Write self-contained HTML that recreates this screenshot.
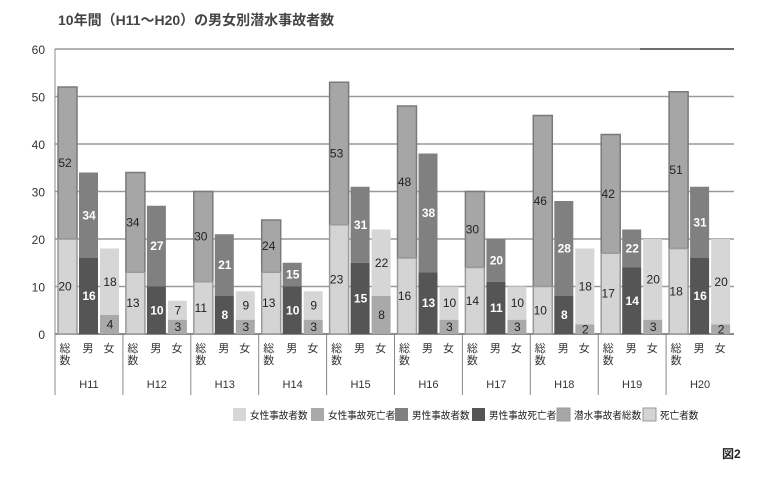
<!DOCTYPE html>
<html><head><meta charset="utf-8"><style>
body{margin:0;background:#fff;width:784px;height:476px;overflow:hidden;font-family:"Liberation Sans","Noto Sans CJK JP",sans-serif}
</style></head><body>
<svg id="chart" width="784" height="476" xmlns="http://www.w3.org/2000/svg" font-family="Liberation Sans, Noto Sans CJK JP, sans-serif">
<text x="58" y="25" font-size="14" fill="#444" font-weight="bold">10年間（H11～H20）の男女別潜水事故者数</text>
<g id="grid"></g><g id="bars"></g><g id="axis"></g><g id="legend"></g>
<text x="722" y="458" font-size="12" font-weight="bold" fill="#222">図2</text>
</svg>
<script>
const years=["H11","H12","H13","H14","H15","H16","H17","H18","H19","H20"];
const total=[52,34,30,24,53,48,30,46,42,51];
const deaths=[20,13,11,13,23,16,14,10,17,18];
const male=[34,27,21,15,31,38,20,28,22,31];
const maleDeaths=[16,10,8,10,15,13,11,8,14,16];
const female=[18,7,9,9,22,10,10,18,20,20];
const femaleDeaths=[4,3,3,3,8,3,3,2,3,2];
const yTicks=[0,10,20,30,40,50,60];
const subLabels=["総数","男","女"];
const legendItems=["女性事故者数","女性事故死亡者","男性事故者数","男性事故死亡者","潜水事故者総数","死亡者数"];
const legendColors=["#d6d6d6","#a9a9a9","#808080","#555555","#a6a6a6","#d4d4d4"];
const NS="http://www.w3.org/2000/svg";
const X0=55,X1=734,Y0=334,YT=49;
const gw=(X1-X0)/years.length;
const y=v=>Y0-(v/60)*(Y0-YT);
function mk(t,a,p){const e=document.createElementNS(NS,t);for(const k in a)e.setAttribute(k,a[k]);p.appendChild(e);return e;}
const grid=document.getElementById('grid'),bars=document.getElementById('bars'),axis=document.getElementById('axis'),leg=document.getElementById('legend');
yTicks.forEach(v=>{
 const l=mk('line',{x1:X0,x2:X1,y1:y(v),y2:y(v),stroke:v===0?'#666':'#999','stroke-width':1.5},grid);
 
 
 const t=mk('text',{x:X0-10,y:y(v)+5,'text-anchor':'end','font-size':12,fill:'#333'},axis);
 t.textContent=v;
 
 
});
const topL=mk('line',{x1:640,x2:X1,y1:y(60),y2:y(60),stroke:'#111','stroke-width':1},grid);


const al=mk('line',{x1:X0,x2:X0,y1:YT,y2:395,stroke:'#888'},axis);


function seg(x,v0,v1,fill,stroke,name){
 const r=mk('rect',{x:x,y:y(v1),width:19,height:y(v0)-y(v1),fill:fill,stroke:stroke||'none','stroke-width':stroke?1.5:0},bars);
 
 
}
function lbl(x,v,mid,col,name){
 const t=mk('text',{x:x,y:y(mid)+4,'text-anchor':'middle','font-size':12,fill:col,'font-weight':col==='#fff'?'bold':'normal'},bars);
 t.textContent=v;
 
 
}
years.forEach((yr,i)=>{
 const gx=X0+i*gw;
 const bx=[gx+3,gx+24,gx+45];
 seg(bx[0],deaths[i],total[i],'#a6a6a6','#7a7a7a','bar-total');
 seg(bx[0],0,deaths[i],'#d4d4d4','#9a9a9a','bar-deaths');
 lbl(bx[0]+7,total[i],(deaths[i]+total[i])/2,'#222','label-total');
 lbl(bx[0]+7,deaths[i],deaths[i]/2,'#222','label-deaths');
 seg(bx[1],maleDeaths[i],male[i],'#808080',null,'bar-male');
 seg(bx[1],0,maleDeaths[i],'#555555',null,'bar-male-deaths');
 lbl(bx[1]+10,male[i],(maleDeaths[i]+male[i])/2,'#fff','label-male');
 lbl(bx[1]+10,maleDeaths[i],maleDeaths[i]/2,'#fff','label-male-deaths');
 seg(bx[2],femaleDeaths[i],female[i],'#d6d6d6',null,'bar-female');
 seg(bx[2],0,femaleDeaths[i],'#a9a9a9',null,'bar-female-deaths');
 lbl(bx[2]+10,female[i],(femaleDeaths[i]+female[i])/2,'#222','label-female');
 lbl(bx[2]+10,femaleDeaths[i],femaleDeaths[i]/2,'#222','label-female-deaths');
 if(i>0){const s=mk('line',{x1:gx,x2:gx,y1:Y0,y2:395,stroke:'#888'},axis);
  
  }
 subLabels.forEach((s,j)=>{
  const cx=bx[j]+9;
  if(s.length===2){
   [0,1].forEach(k=>{const t=mk('text',{x:cx-2,y:352+k*12,'text-anchor':'middle','font-size':11,fill:'#333'},axis);t.textContent=s[k];
    
    });
  } else {const t=mk('text',{x:cx,y:352,'text-anchor':'middle','font-size':11,fill:'#333'},axis);t.textContent=s;
   
   }
 });
 const g=mk('text',{x:gx+gw/2,y:388,'text-anchor':'middle','font-size':11,fill:'#333'},axis);
 g.textContent=yr;
 
 
});
const lxs=[233,311,395,472,557,643];
legendItems.forEach((s,i)=>{
 const lx=lxs[i];
 const r=mk('rect',{x:lx,y:408,width:13,height:13,fill:legendColors[i],stroke:i>=4?'#999':'none'},leg);
 
 
 const t=mk('text',{x:lx+17,y:419,'font-size':10,fill:'#222',textLength:s.length*9.6,lengthAdjust:'spacingAndGlyphs'},leg);
 t.textContent=s;
 
 
});
</script>
</body></html>
